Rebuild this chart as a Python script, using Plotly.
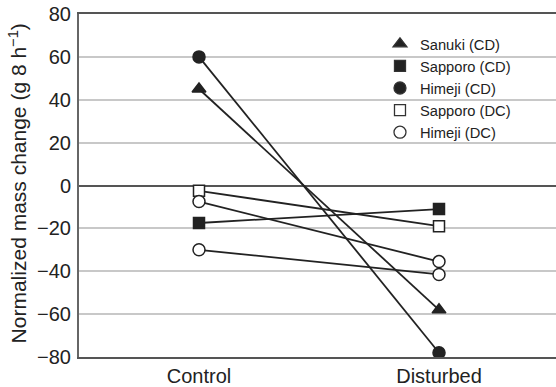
import plotly.graph_objects as go

categories = ["Control", "Disturbed"]
series_names = ["Sanuki (CD)", "Sapporo (CD)", "Himeji (CD)", "Sapporo (DC)", "Himeji (DC)"]
sanuki_cd = [45, -58]
sapporo_cd = [-17.5, -11]
himeji_cd = [60, -78]
sapporo_dc = [-2.5, -19]
himeji_dc_a = [-7.5, -35.5]
himeji_dc_b = [-30, -41.5]
y_ticks = [80, 60, 40, 20, 0, -20, -40, -60, -80]
y_ticklabels = ["80", "60", "40", "20", "0", "\u221220", "\u221240", "\u221260", "\u221280"]
y_title = "Normalized mass change (g 8 h<sup>\u22121</sup>)"

LINE = "#222222"
series = [
    (series_names[0], sanuki_cd, "triangle-up", LINE, 12),
    (series_names[1], sapporo_cd, "square", LINE, 11),
    (series_names[2], himeji_cd, "circle", LINE, 12),
    (series_names[3], sapporo_dc, "square", "white", 11),
    (series_names[4], himeji_dc_a, "circle", "white", 12),
    (None, himeji_dc_b, "circle", "white", 12),
]

fig = go.Figure()
for name, vals, sym, fill, size in series:
    fig.add_trace(go.Scatter(
        x=categories, y=vals, mode="lines+markers", showlegend=False,
        line=dict(color=LINE, width=1.8),
        marker=dict(symbol=sym, color=fill, size=size, line=dict(color=LINE, width=1.5)),
    ))
for name, vals, sym, fill, size in series:
    if name is None:
        continue
    fig.add_trace(go.Scatter(
        x=[None], y=[None], mode="markers", name=name,
        marker=dict(symbol=sym, color=fill, size=size, line=dict(color="#333333", width=1.3)),
    ))

# plot area: x 79..556, y 14..357 in a 556x387 figure
fig.add_annotation(
    text=y_title, textangle=-90, xref="paper", yref="paper",
    x=-0.128, y=0.506, xanchor="center", yanchor="middle", showarrow=False,
    font=dict(size=21, color="#222222"),
)

fig.update_layout(
    width=556, height=387,
    margin=dict(l=79, r=0, t=14, b=30, autoexpand=False),
    paper_bgcolor="white", plot_bgcolor="white",
    font=dict(family="Liberation Sans, Arial, sans-serif", color="#222222", size=20),
    showlegend=True,
    legend=dict(x=0.631, y=0.96, xanchor="left", yanchor="top",
                font=dict(size=14.7), bgcolor="rgba(0,0,0,0)", tracegroupgap=0),
    xaxis=dict(
        type="category", range=[-0.5, 1.4875],
        showgrid=False, zeroline=False,
        showline=True, linecolor="#555555", linewidth=2, mirror=True,
        ticks="", tickfont=dict(size=20), automargin=False,
    ),
    yaxis=dict(
        range=[-80, 80], tickvals=y_ticks, ticktext=y_ticklabels,
        showgrid=True, gridcolor="#c8c8c8", gridwidth=1.5,
        zeroline=True, zerolinecolor="#555555", zerolinewidth=2,
        showline=True, linecolor="#666666", linewidth=2,
        ticks="", tickfont=dict(size=20), ticklabelstandoff=2, automargin=False,
        ticklabeloverflow="allow",
    ),
)

fig.write_html(
    "out.html",
    config={"displayModeBar": False},
    post_script="document.body.style.margin='0';document.body.style.padding='0';",
)
